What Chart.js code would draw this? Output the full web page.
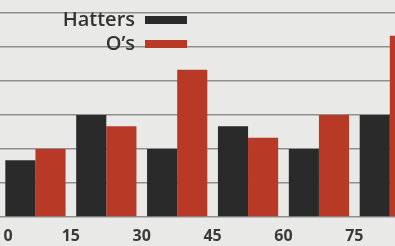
<!DOCTYPE html>
<html>
<head>
<meta charset="utf-8">
<script src="https://cdn.jsdelivr.net/npm/chart.js@4/dist/chart.umd.min.js"></script>
<style>
  html, body { margin: 0; padding: 0; background: #e9e9e7; overflow: hidden; }
  #wrap { position: relative; width: 395px; height: 246px; }
</style>
</head>
<body>
<div id="wrap"><canvas id="goals"></canvas></div>
<script>
// goals scored per 15-minute period
const periods = ['0-15', '15-30', '30-45', '45-60', '60-75', '75-90'];
const periodMid = [7.5, 22.5, 37.5, 52.5, 67.5, 82.5];
const hatters = [5, 9, 6, 8, 6, 9];
const os = [6, 8, 13, 7, 9, 16];
const tickLabels = ['0', '15', '30', '45', '60', '75'];

const dark = '#2a2a2a';
const red = '#b83a26';

const toPoints = (vals) => vals.map((v, i) => ({ x: periodMid[i], y: v }));

// move the legend into the top-left of the plot, boxes on the right of the text
const legendPlacer = {
    id: 'legendPlacer',
    afterLayout(chart) {
        const lg = chart.legend;
        const pad = lg.options.labels.padding;
        lg.left = 187 + pad - lg.width;
        lg.right = lg.left + lg.width;
        lg.top = 6;
    }
};

new Chart(document.getElementById('goals'), {
    type: 'bar',
    data: {
        labels: periods,
        datasets: [
            { label: 'Hatters', data: toPoints(hatters), backgroundColor: dark },
            { label: 'O\u2019s', data: toPoints(os), backgroundColor: red }
        ]
    },
    options: {
        responsive: true,
        maintainAspectRatio: false,
        animation: false,
        categoryPercentage: 0.85,
        barPercentage: 1.0,
        layout: { padding: 0 },
        plugins: {
            tooltip: { enabled: false },
            legend: {
                position: 'chartArea',
                align: 'start',
                rtl: true,
                labels: {
                    boxWidth: 42,
                    boxHeight: 8,
                    padding: 4,
                    color: '#333333',
                    font: { family: 'Open Sans', size: 20, weight: '600' }
                }
            }
        },
        scales: {
            x: {
                type: 'linear',
                offset: false,
                min: 0,
                max: 83.6,
                grid: { display: false, drawTicks: false, offset: false },
                border: { display: false },
                ticks: {
                    stepSize: 15,
                    includeBounds: false,
                    maxRotation: 0,
                    padding: 10,
                    color: '#3a3a3a',
                    font: { family: 'Open Sans', size: 16, weight: 'bold' },
                    callback: (v, i) => (i === 0 ? '\u2002\u2002' : '') + tickLabels[i]
                },
                afterFit(s) { s.paddingLeft = 0; s.paddingRight = 0; s.height = 29; }
            },
            y: {
                min: 0,
                max: 19.15,
                border: { display: false },
                grid: { color: '#8f8f8f', lineWidth: 1.5, drawTicks: false },
                ticks: { display: false, stepSize: 3, includeBounds: false }
            }
        }
    },
    plugins: [legendPlacer]
});
</script>
</body>
</html>
